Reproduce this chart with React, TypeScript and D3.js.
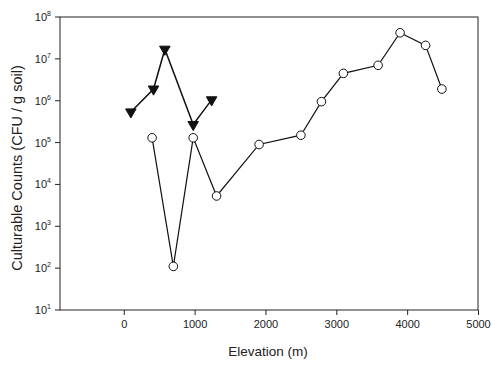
import React, { useEffect, useRef } from 'react';
import * as d3 from 'd3';

// open circles series
const circleElev = [400, 700, 980, 1310, 1910, 2500, 2790, 3100, 3590, 3900, 4260, 4490];
const circleCounts = [1.3e5, 1.1e2, 1.3e5, 5.3e3, 0.9e5, 1.5e5, 0.95e6, 4.5e6, 7e6, 4.2e7, 2.1e7, 1.9e6];

// filled down-triangle series
const triElev = [100, 420, 580, 980, 1240];
const triCounts = [5.4e5, 1.9e6, 1.7e7, 2.7e5, 1.05e6];

const xTicks = [0, 1000, 2000, 3000, 4000, 5000];
const yExps = [1, 2, 3, 4, 5, 6, 7, 8];

const WIDTH = 500;
const HEIGHT = 367;

export default function App() {
    const ref = useRef<SVGSVGElement>(null);

    useEffect(() => {
        const svg = d3.select(ref.current);
        svg.selectAll("*").remove();

        const margin = { top: 17, left: 60, bottom: 57, right: 22 };
        const font = "Liberation Sans, Arial, sans-serif";

        const x = d3.scaleLinear()
            .domain([-900, 5000])
            .range([margin.left, WIDTH - margin.right]);
        const y = d3.scaleLog()
            .domain([10, 1e8])
            .range([HEIGHT - margin.bottom, margin.top]);

        // frame
        svg.append("rect")
            .attr("x", margin.left)
            .attr("y", margin.top)
            .attr("width", WIDTH - margin.right - margin.left)
            .attr("height", HEIGHT - margin.bottom - margin.top)
            .attr("fill", "none")
            .attr("stroke", "#222")
            .attr("stroke-width", 1);

        // x axis
        const xAxis = svg.append("g")
            .attr("transform", `translate(0,${HEIGHT - margin.bottom})`)
            .call(d3.axisBottom(x).tickValues(xTicks).tickSize(5).tickPadding(5).tickFormat(d3.format("d")));
        xAxis.select(".domain").remove();
        xAxis.selectAll("line").attr("stroke", "#222");
        xAxis.selectAll("text")
            .attr("font-family", font)
            .attr("font-size", 11)
            .attr("fill", "#222");

        // y axis with superscript labels
        const yAxis = svg.append("g")
            .attr("transform", `translate(${margin.left},0)`);
        yAxis.selectAll("line")
            .data(yExps)
            .join("line")
            .attr("x1", -5)
            .attr("x2", 0)
            .attr("y1", d => y(Math.pow(10, d)))
            .attr("y2", d => y(Math.pow(10, d)))
            .attr("stroke", "#222");
        const yLabels = yAxis.selectAll("text")
            .data(yExps)
            .join("text")
            .attr("x", -9)
            .attr("y", d => y(Math.pow(10, d)) + 4)
            .attr("text-anchor", "end")
            .attr("font-family", font)
            .attr("font-size", 11)
            .attr("fill", "#222");
        yLabels.append("tspan").text("10");
        yLabels.append("tspan")
            .attr("dy", -5)
            .attr("font-size", 7)
            .text(d => d);

        // circles series
        const cPts = circleElev.map((e, i) => [x(e), y(circleCounts[i])] as [number, number]);
        svg.append("path")
            .attr("d", d3.line()(cPts))
            .attr("fill", "none")
            .attr("stroke", "#111")
            .attr("stroke-width", 1.2);

        // triangle series
        const tPts = triElev.map((e, i) => [x(e), y(triCounts[i])] as [number, number]);
        svg.append("path")
            .attr("d", d3.line()(tPts))
            .attr("fill", "none")
            .attr("stroke", "#111")
            .attr("stroke-width", 1.5);

        svg.append("g")
            .selectAll("circle")
            .data(cPts)
            .join("circle")
            .attr("cx", d => d[0])
            .attr("cy", d => d[1])
            .attr("r", 4.3)
            .attr("fill", "white")
            .attr("stroke", "#111")
            .attr("stroke-width", 1);

        const tri = d3.symbol().type(d3.symbolTriangle).size(48);
        svg.append("g")
            .selectAll("path")
            .data(tPts)
            .join("path")
            .attr("d", tri)
            .attr("transform", d => `translate(${d[0]},${d[1]}) rotate(180)`)
            .attr("fill", "#111")
            .attr("stroke", "#111");

        // axis titles
        svg.append("text")
            .attr("x", 268)
            .attr("y", 356)
            .attr("text-anchor", "middle")
            .attr("font-family", font)
            .attr("font-size", 13.5)
            .attr("fill", "#222")
            .text("Elevation (m)");

        svg.append("text")
            .attr("transform", `translate(22,168) rotate(-90)`)
            .attr("text-anchor", "middle")
            .attr("font-family", font)
            .attr("font-size", 14.5)
            .attr("fill", "#222")
            .text("Culturable Counts (CFU / g soil)");
    }, []);

    return (
        <svg ref={ref} width={WIDTH} height={HEIGHT}
            style={{ position: "absolute", left: 0, top: 0, background: "white" }} />
    );
}
